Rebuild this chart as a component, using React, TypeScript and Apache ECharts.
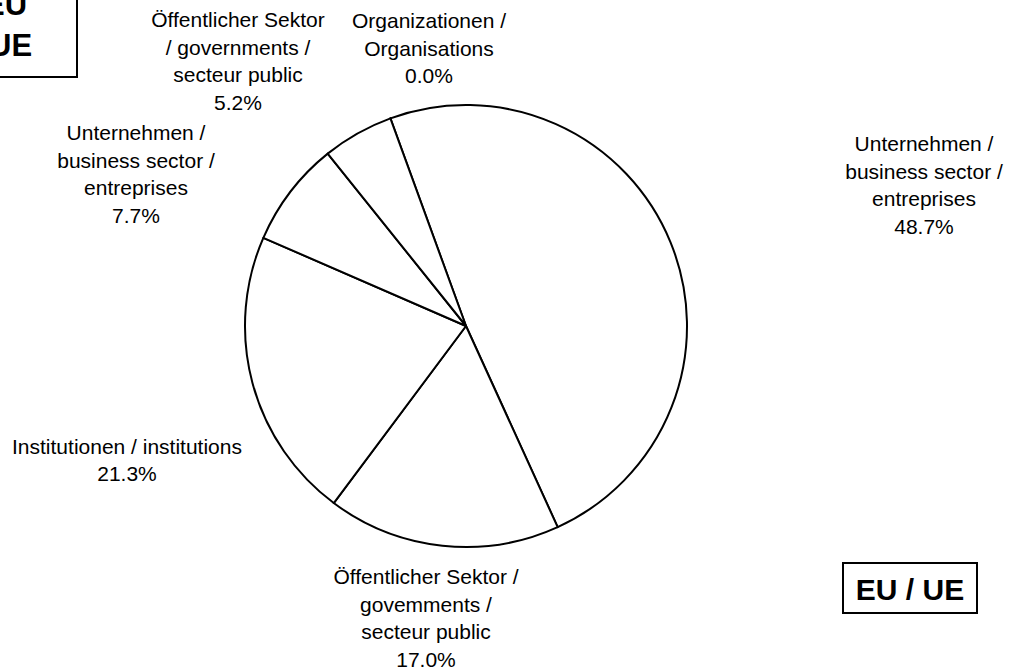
import React, { useEffect, useRef } from "react";
import * as echarts from "echarts";

// ---- data ----
const sliceNames: string[] = [
  "Organizationen /\nOrganisations",
  "Unternehmen /\nbusiness sector /\nentreprises",
  "Öffentlicher Sektor /\ngovemments /\nsecteur public",
  "Institutionen / institutions",
  "Unternehmen /\nbusiness sector /\nentreprises",
  "Öffentlicher Sektor\n/ governments /\nsecteur public",
];
const sliceValues: number[] = [0.0, 48.7, 17.0, 21.3, 7.7, 5.2];
const boxLabel = "EU / UE";
const cornerLines: string[] = ["EU", "UE"];

// ---- layout (label block centres, px) ----
const labelCenters: [number, number][] = [
  [429, 48],
  [924, 185],
  [426, 618],
  [127, 460],
  [136, 174],
  [238, 61],
];

const FONT = "'Liberation Sans', Arial, Helvetica, sans-serif";

export default function App() {
  const ref = useRef<HTMLDivElement>(null);
  useEffect(() => {
    if (!ref.current) return;
    const chart = echarts.init(ref.current, undefined, { renderer: "svg" });
    chart.setOption({
      animation: false,
      backgroundColor: "#ffffff",
      series: [
        {
          type: "pie",
          center: [466, 326],
          radius: 221,
          startAngle: 110,
          clockwise: true,
          avoidLabelOverlap: false,
          silent: true,
          emphasis: { disabled: true },
          data: sliceNames.map((n, i) => ({ name: n, value: sliceValues[i] })),
          itemStyle: { color: "#ffffff", borderColor: "#000000", borderWidth: 2 },
          label: {
            show: true,
            position: "outside",
            formatter: (p: any) => `${p.name}\n${Number(p.value).toFixed(1)}%`,
            color: "#000000",
            fontFamily: FONT,
            fontSize: 21,
            lineHeight: 27.5,
            align: "center",
          },
          labelLine: { show: false },
          labelLayout: (params: any) => {
            const c = labelCenters[params.dataIndex];
            return { x: c[0], y: c[1], align: "center", verticalAlign: "middle", hideOverlap: false };
          },
        },
      ],
      graphic: [
        {
          type: "rect",
          shape: { x: -4, y: -4, width: 81, height: 81 },
          style: { fill: "none", stroke: "#000", lineWidth: 2 },
        },
        {
          type: "text",
          x: -16,
          y: 4,
          style: { text: cornerLines[0], font: `bold 31px ${FONT}`, fill: "#000", textAlign: "left", textVerticalAlign: "middle" },
        },
        {
          type: "text",
          x: -11,
          y: 45,
          style: { text: cornerLines[1], font: `bold 31px ${FONT}`, fill: "#000", textAlign: "left", textVerticalAlign: "middle" },
        },
        {
          type: "rect",
          shape: { x: 843, y: 563, width: 134, height: 50 },
          style: { fill: "#fff", stroke: "#000", lineWidth: 2 },
        },
        {
          type: "text",
          x: 910,
          y: 589,
          style: { text: boxLabel, font: `bold 30px ${FONT}`, fill: "#000", textAlign: "center", textVerticalAlign: "middle" },
        },
      ],
    });
    return () => chart.dispose();
  }, []);
  return (
    <div
      ref={ref}
      style={{ position: "fixed", left: 0, top: 0, width: 1011, height: 670, background: "#fff" }}
    />
  );
}
